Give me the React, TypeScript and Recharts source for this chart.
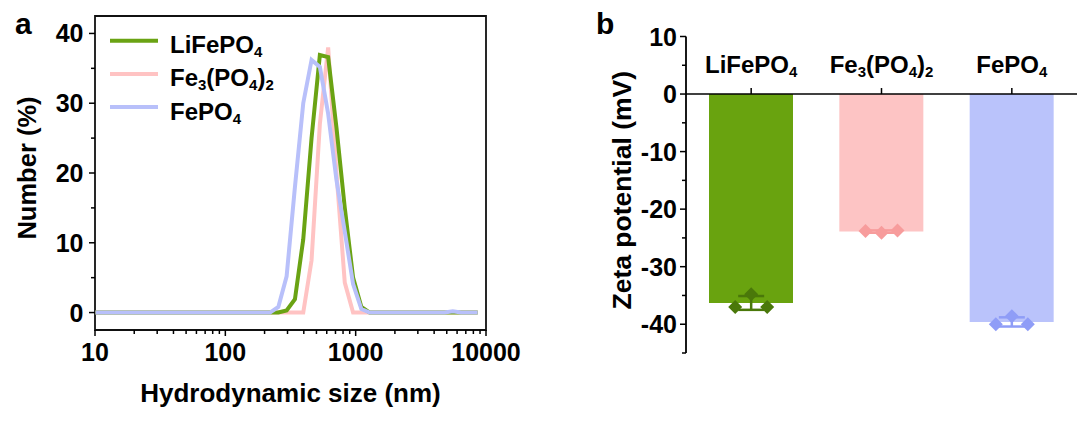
import React from "react";
import {
  LineChart,
  Line,
  XAxis,
  YAxis,
  ReferenceArea,
  Legend,
  ComposedChart,
  Bar,
  Cell,
  Scatter,
  ErrorBar,
  ReferenceLine,
  ReferenceDot,
} from "recharts";

const FONT = '"Liberation Sans", Arial, Helvetica, sans-serif';

// ---- panel a: DLS number distribution ----
const SIZE_BINS = [
  10.1, 11.7, 13.54, 15.69, 18.17, 21.04, 24.36, 28.21, 32.67, 37.84,
  43.82, 50.75, 58.77, 68.06, 78.82, 91.28, 105.7, 122.4, 141.8, 164.2,
  190.1, 220.2, 255, 295.3, 342, 396.1, 458.7, 531.2, 615.1, 712.4,
  825, 955.4, 1106, 1281, 1484, 1718, 1990, 2305, 2669, 3091,
  3580, 4145, 4801, 5560, 6439, 7456, 8635,
];
const LFP_NUM = [
  0, 0, 0, 0, 0, 0, 0, 0, 0, 0,
  0, 0, 0, 0, 0, 0, 0, 0, 0, 0,
  0, 0, 0, 0.3, 1.9, 10.5, 25, 36.9, 36.6, 26.5,
  15, 5, 0.8, 0, 0, 0, 0, 0, 0, 0,
  0, 0, 0, 0, 0, 0, 0,
];
const FE3_NUM = [
  0, 0, 0, 0, 0, 0, 0, 0, 0, 0,
  0, 0, 0, 0, 0, 0, 0, 0, 0, 0,
  0, 0, 0, 0, 0, 0, 7.5, 27, 38, 20,
  4.3, 0, 0, 0, 0, 0, 0, 0, 0, 0,
  0, 0, 0, 0, 0, 0, 0,
];
const FP_NUM = [
  0, 0, 0, 0, 0, 0, 0, 0, 0, 0,
  0, 0, 0, 0, 0, 0, 0, 0, 0, 0,
  0, 0, 0.8, 5.2, 18, 30, 36.2, 35.2, 28.5, 19,
  11.6, 4.1, 0.5, 0, 0, 0, 0, 0, 0, 0,
  0, 0, 0, 0.2, 0, 0, 0,
];

const X_TICKS = [
  10, 20, 30, 40, 50, 60, 70, 80, 90,
  100, 200, 300, 400, 500, 600, 700, 800, 900,
  1000, 2000, 3000, 4000, 5000, 6000, 7000, 8000, 9000, 10000,
];
const X_MAJOR = [10, 100, 1000, 10000];
const NUM_TICKS = [0, 5, 10, 15, 20, 25, 30, 35, 40];

const LINE_COLORS: Record<string, string> = {
  lfp: "#6aa313",
  fe3: "#ffc3c3",
  fp: "#b8c0fa",
};
const LEGEND_ROWS = [
  { key: "lfp", label: "LiFePO4" },
  { key: "fe3", label: "Fe3(PO4)2" },
  { key: "fp", label: "FePO4" },
];

// ---- panel b: zeta potential ----
const ZETA_SAMPLES = ["LiFePO4", "Fe3(PO4)2", "FePO4"];
const ZETA_MEAN = [-36.3, -23.9, -39.6];
const ZETA_SD = [1.2, 0.2, 0.8];
const ZETA_REP1 = [-37.0, -23.8, -40.0];
const ZETA_REP2 = [-34.8, -24.1, -38.6];
const ZETA_REP3 = [-37.0, -23.7, -40.0];
const ZETA_TICKS = [10, 5, 0, -5, -10, -15, -20, -25, -30, -35, -40, -45];

const BAR_FILL = ["#69a30f", "#fdc4c4", "#bac3fb"];
const MARK_FILL = ["#4a780a", "#f79c9c", "#8f9df7"];

const sizeData = SIZE_BINS.map((size, i) => ({
  size,
  lfp: LFP_NUM[i],
  fe3: FE3_NUM[i],
  fp: FP_NUM[i],
}));

const zetaData = ZETA_SAMPLES.map((name, i) => ({
  name,
  mean: ZETA_MEAN[i],
  sd: ZETA_SD[i],
  r1: ZETA_REP1[i],
  r2: ZETA_REP2[i],
  r3: ZETA_REP3[i],
}));

// digits in chemical formulas become subscripts
function formulaSpans(label: string, subSize: number, shift: number) {
  const parts = label.match(/\d+|\D+/g) ?? [];
  let down = false;
  return parts.map((part, i) => {
    const isSub = /^\d+$/.test(part);
    const dy = isSub ? (down ? 0 : shift) : down ? -shift : 0;
    down = isSub;
    return (
      <tspan key={i} dy={dy} fontSize={isSub ? subSize : undefined}>
        {part}
      </tspan>
    );
  });
}

const textStyle = { fontFamily: FONT, fontWeight: 700, fill: "#000" };

const LogTick = (props: any) => {
  const { x, y, payload } = props;
  const major = X_MAJOR.includes(payload.value);
  return (
    <g>
      <line x1={x} y1={y} x2={x} y2={y + (major ? 6 : 4)} stroke="#000" strokeWidth={1.5} />
      {major && (
        <text x={x} y={y + 31} textAnchor="middle" fontSize={25} style={textStyle}>
          {payload.value}
        </text>
      )}
    </g>
  );
};

const LeftTick = (props: any) => {
  const { x, y, payload, gap } = props;
  const major = payload.value % 10 === 0;
  return (
    <g>
      <line x1={x - (major ? 6 : 4)} y1={y} x2={x} y2={y} stroke="#000" strokeWidth={1.5} />
      {major && (
        <text x={x - gap} y={y + 9} textAnchor="end" fontSize={25} style={textStyle}>
          {payload.value}
        </text>
      )}
    </g>
  );
};

const VTitle = (props: any) => {
  const { viewBox, txt, bx, dy, size } = props;
  const x = viewBox.x + bx;
  const y = viewBox.y + viewBox.height / 2 + dy;
  return (
    <text
      x={x}
      y={y}
      textAnchor="middle"
      fontSize={size}
      transform={`rotate(-90 ${x} ${y})`}
      style={textStyle}
    >
      {txt}
    </text>
  );
};

const HTitle = (props: any) => {
  const { viewBox, txt, by, size } = props;
  return (
    <text
      x={viewBox.x + viewBox.width / 2}
      y={viewBox.y + by}
      textAnchor="middle"
      fontSize={size}
      style={textStyle}
    >
      {txt}
    </text>
  );
};

const SizeLegend = () => (
  <svg width={240} height={118}>
    {LEGEND_ROWS.map((row, i) => {
      const cy = 20.7 + i * 33.2;
      return (
        <g key={row.key}>
          <line x1={5} y1={cy} x2={53} y2={cy} stroke={LINE_COLORS[row.key]} strokeWidth={4} />
          <text x={65} y={cy + 12.5} fontSize={24} style={textStyle}>
            {formulaSpans(row.label, 15, 4)}
          </text>
        </g>
      );
    })}
  </svg>
);

const Diamond = (props: any) => {
  const { cx, cy, payload, dx } = props;
  const idx = ZETA_SAMPLES.indexOf(payload?.name);
  const x = cx + dx;
  const h = 7;
  return (
    <polygon
      points={`${x},${cy - h} ${x + h},${cy} ${x},${cy + h} ${x - h},${cy}`}
      fill={MARK_FILL[idx] ?? "#000"}
    />
  );
};

const CategoryMark = (props: any) => {
  const { cx, cy, label } = props;
  return (
    <g>
      <line x1={cx} y1={cy} x2={cx} y2={cy - 6} stroke="#000" strokeWidth={1.5} />
      <text x={cx} y={cy - 20.7} textAnchor="middle" fontSize={24} style={textStyle}>
        {formulaSpans(label, 15, 4)}
      </text>
    </g>
  );
};

function SizePanel() {
  return (
    <LineChart
      width={540}
      height={428}
      data={sizeData}
      margin={{ top: 16, right: 54, bottom: 0, left: 0 }}
    >
      <XAxis
        dataKey="size"
        type="number"
        scale="log"
        domain={[10, 10000]}
        allowDataOverflow
        ticks={X_TICKS}
        interval={0}
        tickSize={0}
        tickMargin={0}
        axisLine={false}
        tickLine={false}
        height={98}
        tick={(p: any) => <LogTick {...p} />}
        label={(p: any) => (
          <HTitle viewBox={p.viewBox} txt="Hydrodynamic size (nm)" by={72} size={26} />
        )}
      />
      <YAxis
        type="number"
        domain={[-2.5, 42.5]}
        allowDataOverflow
        ticks={NUM_TICKS}
        interval={0}
        tickSize={0}
        tickMargin={0}
        axisLine={false}
        tickLine={false}
        width={95}
        tick={(p: any) => <LeftTick {...p} gap={11.5} />}
        label={(p: any) => (
          <VTitle viewBox={p.viewBox} txt="Number (%)" bx={36} dy={-5} size={25.5} />
        )}
      />
      <ReferenceArea
        x1={10}
        x2={10000}
        y1={-2.5}
        y2={42.5}
        fill="none"
        fillOpacity={0}
        stroke="#111"
        strokeWidth={1.8}
        ifOverflow="visible"
      />
      <Line type="linear" dataKey="fe3" stroke={LINE_COLORS.fe3} strokeWidth={4} dot={false} isAnimationActive={false} />
      <Line type="linear" dataKey="lfp" stroke={LINE_COLORS.lfp} strokeWidth={4} dot={false} isAnimationActive={false} />
      <Line type="linear" dataKey="fp" stroke={LINE_COLORS.fp} strokeWidth={4} dot={false} isAnimationActive={false} />
      <Legend
        layout="vertical"
        align="center"
        verticalAlign="middle"
        wrapperStyle={{ position: "absolute", left: 105, top: 20, width: 240, height: 118, lineHeight: 0 }}
        content={() => <SizeLegend />}
      />
    </LineChart>
  );
}

function ZetaPanel() {
  return (
    <ComposedChart
      width={541}
      height={428}
      data={zetaData}
      margin={{ top: 36.5, right: 4, bottom: 75, left: 0 }}
    >
      <XAxis dataKey="name" hide allowDuplicatedCategory={false} />
      <YAxis
        type="number"
        domain={[-45, 10]}
        allowDataOverflow
        ticks={ZETA_TICKS}
        interval={0}
        tickSize={0}
        tickMargin={0}
        axisLine={{ stroke: "#000", strokeWidth: 1.8 }}
        tickLine={false}
        width={146}
        tick={(p: any) => <LeftTick {...p} gap={9} />}
        label={(p: any) => (
          <VTitle viewBox={p.viewBox} txt="Zeta potential (mV)" bx={91} dy={-4.5} size={26.5} />
        )}
      />
      <Bar dataKey="mean" barSize={84} isAnimationActive={false}>
        {zetaData.map((d, i) => (
          <Cell key={d.name} fill={BAR_FILL[i]} />
        ))}
      </Bar>
      <ReferenceLine y={0} stroke="#000" strokeWidth={1.5} />
      {ZETA_SAMPLES.map((name, i) => (
        <Scatter
          key={`err-${name}`}
          data={[{ name, mean: ZETA_MEAN[i], sd: ZETA_SD[i] }]}
          dataKey="mean"
          shape={() => <g />}
          isAnimationActive={false}
        >
          <ErrorBar dataKey="sd" direction="y" width={13} stroke={MARK_FILL[i]} strokeWidth={2.5} />
        </Scatter>
      ))}
      <Scatter dataKey="r1" shape={(p: any) => <Diamond {...p} dx={-16} />} isAnimationActive={false} />
      <Scatter dataKey="r2" shape={(p: any) => <Diamond {...p} dx={0} />} isAnimationActive={false} />
      <Scatter dataKey="r3" shape={(p: any) => <Diamond {...p} dx={16} />} isAnimationActive={false} />
      {ZETA_SAMPLES.map((name) => (
        <ReferenceDot
          key={`cat-${name}`}
          x={name}
          y={0}
          r={0}
          ifOverflow="visible"
          shape={(p: any) => <CategoryMark {...p} label={name} />}
        />
      ))}
    </ComposedChart>
  );
}

export default function App() {
  return (
    <div
      style={{
        position: "absolute",
        left: 0,
        top: 0,
        width: 1081,
        height: 428,
        background: "#fff",
        fontFamily: FONT,
        overflow: "hidden",
      }}
    >
      <div style={{ position: "absolute", left: 0, top: 0 }}>
        <SizePanel />
      </div>
      <div style={{ position: "absolute", left: 540, top: 0 }}>
        <ZetaPanel />
      </div>
      <svg
        width={1081}
        height={428}
        style={{ position: "absolute", left: 0, top: 0, pointerEvents: "none" }}
      >
        <text x={15} y={33.5} fontSize={30} style={textStyle}>
          a
        </text>
        <text x={596} y={33.5} fontSize={30} style={textStyle}>
          b
        </text>
      </svg>
    </div>
  );
}
